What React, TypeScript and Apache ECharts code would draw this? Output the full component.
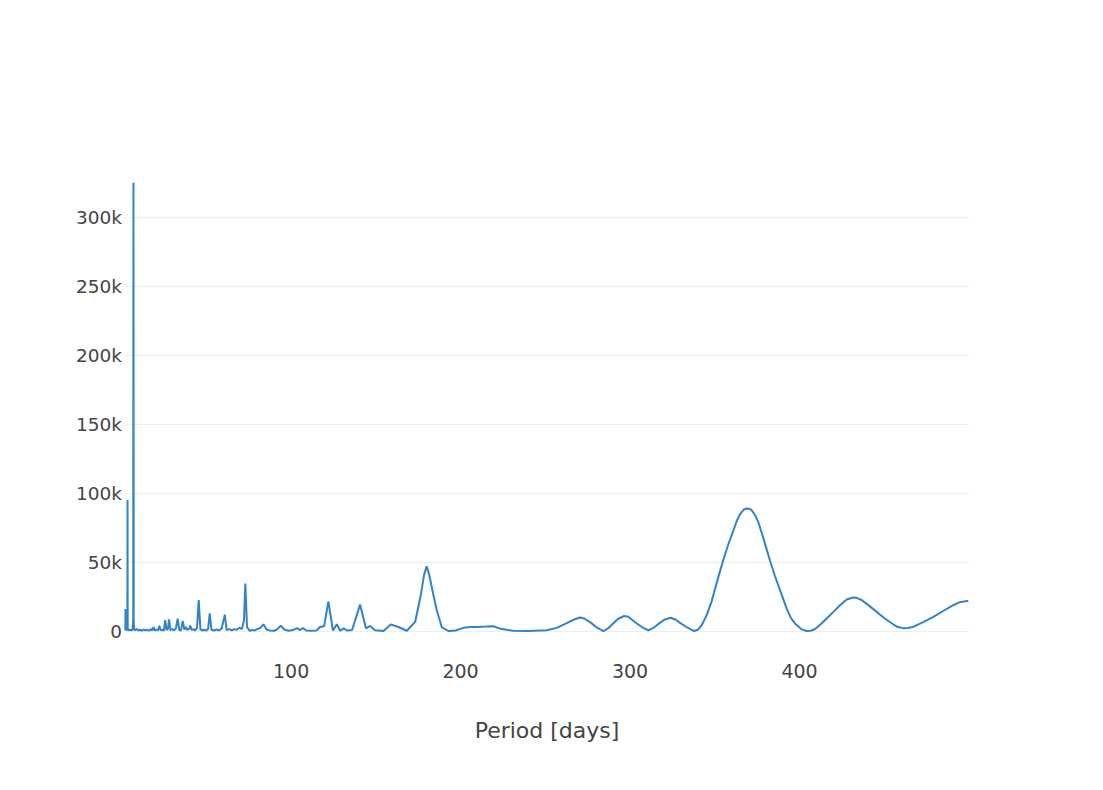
import React, { useEffect, useRef } from "react";
import * as echarts from "echarts";

// Periodogram: period in days vs. power
const periods: number[] = [
  2.0, 2.2, 2.33, 2.45, 2.6, 2.8, 3.0, 3.2, 3.4, 3.5, 3.6, 3.8, 4.1, 4.5, 5.0, 5.5, 6.0, 6.5, 6.85, 7.0,
  7.15, 7.5, 8, 9, 10, 11, 12, 13, 14, 15, 16, 17, 18, 18.8, 19.5, 20.5, 21.5, 22.3, 23, 24,
  25, 25.7, 26.5, 27.3, 28, 28.8, 30, 31, 32, 33.1, 34, 35, 36.1, 37, 38, 38.8, 40, 40.5, 41.3, 42.5,
  43.5, 44.5, 45.5, 46.5, 47.5, 48.5, 50, 51, 52, 53, 54.5, 56, 57.5, 59, 60.9, 62, 63.5, 65, 66.5, 68,
  69.5, 71, 72.2, 73, 74, 75.5, 77, 78.5, 80, 82, 83.7, 85.5, 87.5, 90, 92, 93.9, 96, 98.5, 101, 103.5,
  105, 107, 109, 112, 115, 117, 119.5, 122, 124.7, 127, 129, 131, 133, 136, 140.7, 144.2, 146.6, 149.5, 154.5, 158.8,
  163.3, 168.3, 173.2, 176.5, 178.5, 180, 181.5, 184, 186, 189, 193, 197, 201.7, 206, 210, 215, 219.4, 223, 227, 231,
  240, 250.8, 256.7, 263, 267, 270.5, 273, 277, 280, 284.3, 287, 290, 293, 296.5, 299, 303, 307, 310.8, 314, 317,
  320.5, 324, 327, 329.5, 334, 337.8, 340, 342.3, 345.2, 348, 350, 352.5, 355, 358, 361, 363, 365, 367, 368.8, 370.3,
  371.8, 373.8, 375.7, 379, 382.6, 385.5, 388.5, 392.4, 395, 397.3, 401, 404.2, 406.5, 409, 412.5, 416, 420, 423.9, 427.8, 431.7,
  434, 436.7, 441, 445.5, 450.5, 455.3, 458, 461, 464, 467, 473, 479, 485, 490.7, 494.5, 499.6,
];

const power: number[] = [
  1000, 2000, 16000, 1000, 500, 1500, 800, 2000, 4000, 95000, 3000, 1000, 500, 1200, 600, 1000, 400, 1500, 8000, 325000,
  6000, 1000, 800, 1500, 500, 1000, 400, 1200, 600, 1000, 300, 1500, 500, 3000, 600, 1200, 500, 4000, 800, 1000,
  500, 8000, 1000, 1500, 8500, 800, 1500, 500, 2000, 9000, 1000, 500, 7500, 1200, 3000, 800, 2000, 4000, 800, 1500,
  500, 2500, 22500, 1500, 500, 1000, 400, 1500, 13000, 1000, 500, 1200, 500, 1800, 12000, 800, 1500, 500, 1500, 1000,
  2500, 1500, 8000, 34500, 3000, 300, 800, 500, 1500, 2500, 5000, 1200, 500, 300, 1500, 4000, 1200, 300, 800, 2200,
  800, 2200, 500, 300, 400, 3000, 3500, 21500, 500, 5000, 300, 2000, 500, 800, 19300, 2000, 3800, 600, 200, 4800,
  3000, 300, 6700, 26000, 41000, 47000, 41000, 26000, 15000, 2700, 100, 500, 2400, 3000, 3100, 3300, 3600, 2000, 1000, 300,
  200, 700, 2400, 6000, 8500, 9900, 9200, 6000, 3000, 100, 2000, 5500, 9000, 11000, 10500, 6500, 3000, 500, 2500, 5500,
  8500, 9700, 8300, 6000, 2500, 100, 1000, 4300, 11600, 21000, 30000, 41000, 51400, 63000, 73000, 80000, 85000, 88000, 89000, 88700,
  87700, 84000, 79000, 66000, 51000, 40000, 29700, 16400, 9500, 5600, 1500, 100, 300, 1400, 5000, 9200, 14000, 18800, 23000, 24400,
  24000, 22500, 18500, 14000, 9000, 5000, 3000, 2200, 2300, 3100, 6500, 10400, 14800, 18800, 21000, 22000,
];

const xTicks: number[] = [100, 200, 300, 400];
const yTicks: number[] = [0, 50000, 100000, 150000, 200000, 250000, 300000];
const xTitle = "Period [days]";

export default function App() {
  const ref = useRef<HTMLDivElement>(null);
  useEffect(() => {
    if (!ref.current) return;
    const chart = echarts.init(ref.current, undefined, { renderer: "svg" });
    const data = periods.map((p, i) => [p, power[i]]);
    const font = "'DejaVu Sans', Verdana, sans-serif";
    chart.setOption({
      animation: false,
      backgroundColor: "#ffffff",
      grid: { left: 125, right: 134, top: 158, bottom: 134, containLabel: false },
      xAxis: {
        type: "value",
        min: 2,
        max: 500,
        name: xTitle,
        nameLocation: "middle",
        nameGap: 63,
        nameTextStyle: { color: "#444", fontSize: 22, fontFamily: font },
        axisLine: { show: false },
        axisTick: { show: false, customValues: xTicks },
        splitLine: { show: false },
        axisLabel: {
          customValues: xTicks,
          color: "#444",
          fontSize: 19,
          fontFamily: font,
          margin: 5,
        },
      },
      yAxis: {
        type: "value",
        min: -18000,
        max: 343000,
        axisLine: { show: false },
        axisTick: { show: false, customValues: yTicks },
        splitLine: { show: true, lineStyle: { color: "#eeeeee", width: 1 } },
        axisLabel: {
          customValues: yTicks,
          color: "#444",
          fontSize: 18.5,
          fontFamily: font,
          margin: 3,
          formatter: (v: number) => (v === 0 ? "0" : `${v / 1000}k`),
        },
      },
      series: [
        {
          type: "line",
          data,
          showSymbol: false,
          symbol: "none",
          lineStyle: { color: "#3283c8", width: 2 },
          itemStyle: { color: "#3283c8" },
        },
      ],
    });
    return () => chart.dispose();
  }, []);
  return (
    <div
      ref={ref}
      style={{ position: "absolute", left: 0, top: 0, width: 1103, height: 790, background: "#fff" }}
    />
  );
}
